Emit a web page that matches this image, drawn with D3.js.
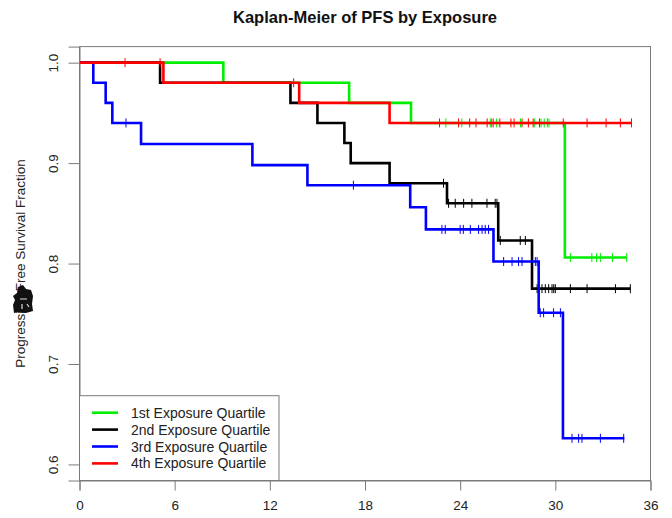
<!DOCTYPE html>
<html>
<head>
<meta charset="utf-8">
<script src="https://cdn.jsdelivr.net/npm/d3@7"></script>
<style>
  html, body { margin: 0; padding: 0; background: #fff; }
  svg { display: block; font-family: "Liberation Sans", Arial, sans-serif; }
</style>
</head>
<body>
<svg id="chart" width="672" height="518"></svg>
<script>
// Kaplan-Meier estimates of progression-free survival, by exposure quartile.
// Each stratum: event times with the survival level after each step, plus censoring times.
const groupNames = ["1st Exposure Quartile", "2nd Exposure Quartile", "3rd Exposure Quartile", "4th Exposure Quartile"];

const q1Times  = [0, 9.07, 17.0, 20.9, 30.6, 34.5];
const q1Surv   = [1.0, 0.98, 0.96, 0.94, 0.806, 0.806];
const q1Censor = [23.1, 24.1, 25.9, 26.1, 26.3, 27.8, 28.7, 29.1, 29.3, 29.5, 29.6,
                  30.95, 32.3, 32.6, 32.84, 33.6, 34.5];

const q2Times  = [0, 5.08, 13.3, 15.0, 16.7, 17.1, 19.55, 23.17, 26.4, 28.53, 34.73];
const q2Surv   = [1.0, 0.98, 0.96, 0.94, 0.92, 0.90, 0.88, 0.86, 0.823, 0.775, 0.775];
const q2Censor = [22.95, 23.27, 23.69, 24.22, 24.74, 25.69, 26.21, 26.32,
                  26.53, 27.79, 28.11,
                  28.85, 29.16, 29.37, 29.58, 29.79, 29.9, 30.0, 30.95, 32.0, 33.79, 34.73];

const q3Times  = [0, 0.87, 1.65, 2.07, 3.88, 10.9, 14.37, 20.85, 21.84, 26.1, 28.95, 30.48, 34.35];
const q3Surv   = [1.0, 0.98, 0.96, 0.94, 0.919, 0.898, 0.878, 0.856, 0.834, 0.802, 0.751, 0.626, 0.626];
const q3Censor = [2.93, 17.27,
                  22.85, 23.06, 24.0, 24.2, 24.64, 25.16, 25.38, 25.58, 25.79,
                  26.74, 27.27, 27.68, 27.9, 28.74, 28.85,
                  29.05, 29.26, 29.89, 30.32,
                  31.05, 31.47, 31.68, 32.84, 34.31];

const q4Times  = [0, 5.29, 13.85, 19.55, 34.8];
const q4Surv   = [1.0, 0.98, 0.96, 0.94, 0.94];
const q4Censor = [2.87, 5.08, 13.5,
                  22.7, 23.9, 24.6, 25.0, 25.7, 26.0, 26.5, 27.2, 27.4, 27.9, 28.3, 28.6, 29.0,
                  30.5, 32.0, 33.2, 34.1, 34.8];

const xTicks = [0, 6, 12, 18, 24, 30, 36];
const yTicks = [0.6, 0.7, 0.8, 0.9, 1.0];

const strata = [
  { name: groupNames[0], times: q1Times, surv: q1Surv, censor: q1Censor },
  { name: groupNames[1], times: q2Times, surv: q2Surv, censor: q2Censor },
  { name: groupNames[2], times: q3Times, surv: q3Surv, censor: q3Censor },
  { name: groupNames[3], times: q4Times, surv: q4Surv, censor: q4Censor }
];
const strataColors = ["#00ee00", "#000000", "#0000ff", "#ff0000"];

const svg = d3.select("#chart");
const plot = { left: 79.5, right: 650.5, top: 46.6, bottom: 480.5 };

const x = d3.scaleLinear().domain([0, 36]).range([plot.left, plot.right]);
// y range padded by 4% of the tick span, as in base R graphics
const y = d3.scaleLinear().domain([0.584, 1.016]).range([plot.bottom, plot.top]);

const axisColor = "#7a7a7a";
const textColor = "#222";

// Title
svg.append("text")
  .attr("x", (plot.left + plot.right) / 2)
  .attr("y", 23)
  .attr("text-anchor", "middle")
  .attr("font-size", 16.5)
  .attr("font-weight", "bold")
  .attr("fill", "#111")
  .text("Kaplan-Meier of PFS by Exposure");

// X axis
const gx = svg.append("g")
  .attr("transform", `translate(0,${plot.bottom})`)
  .call(d3.axisBottom(x).tickValues(xTicks).tickFormat(d3.format("d")).tickSize(10).tickPadding(10));
gx.select(".domain").attr("stroke", axisColor);
gx.selectAll(".tick line").attr("stroke", axisColor);
gx.selectAll(".tick text").attr("fill", textColor).attr("font-size", 13.5)
  .attr("font-family", "Liberation Sans, Arial, sans-serif");

// Y axis with labels rotated parallel to the axis
const gy = svg.append("g")
  .attr("transform", `translate(${plot.left},0)`)
  .call(d3.axisLeft(y).tickValues(yTicks).tickFormat(d3.format(".1f")).tickSize(11));
gy.select(".domain").attr("stroke", axisColor);
gy.selectAll(".tick line").attr("stroke", axisColor);
gy.selectAll(".tick text")
  .attr("fill", textColor).attr("font-size", 13.5)
  .attr("font-family", "Liberation Sans, Arial, sans-serif")
  .attr("transform", "rotate(-90)")
  .attr("x", 0).attr("y", -21.5).attr("dy", null)
  .attr("text-anchor", "middle");

// Y axis title
const yTitleY = (plot.top + plot.bottom) / 2;
svg.append("text")
  .attr("transform", `translate(25,${yTitleY}) rotate(-90)`)
  .attr("text-anchor", "middle")
  .attr("font-size", 13.5)
  .attr("fill", textColor)
  .text("Progression-Free Survival Fraction");

// Ink smudge over the axis title
svg.append("path")
  .attr("d", "M18,287 L23,285 L26,289 L31,290 L33,296 L32,304 L33,311 L26,313 L19,312 L14,313 L13,305 L15,300 L13,296 L17,293 Z")
  .attr("fill", "#111");
svg.append("path")
  .attr("d", "M20,299 L27,299 M22,304 L22,309 M27,304 L29,307")
  .attr("stroke", "#ddd").attr("stroke-width", 1.2).attr("fill", "none");

// Survival step curves
const stepLine = d3.line()
  .x(d => x(d[0]))
  .y(d => y(d[1]))
  .curve(d3.curveStepAfter);

const survAt = (s, t) => s.surv[Math.max(0, d3.bisectRight(s.times, t) - 1)];

strata.forEach((s, i) => {
  const g = svg.append("g");
  g.append("path")
    .datum(s.times.map((t, k) => [t, s.surv[k]]))
    .attr("d", stepLine)
    .attr("fill", "none")
    .attr("stroke", strataColors[i])
    .attr("stroke-width", 2.6)
    .attr("stroke-linejoin", "miter");
  // censoring marks
  g.selectAll("line.cens")
    .data(s.censor)
    .join("line")
    .attr("class", "cens")
    .attr("x1", t => x(t)).attr("x2", t => x(t))
    .attr("y1", t => y(survAt(s, t)) - 4.5)
    .attr("y2", t => y(survAt(s, t)) + 4.5)
    .attr("stroke", strataColors[i])
    .attr("stroke-width", 1);
});

// Legend (bottom-left, flush with the plot frame)
const legend = svg.append("g");
const legTop = 395.7, legRight = 279;
legend.append("rect")
  .attr("x", plot.left).attr("y", legTop)
  .attr("width", legRight - plot.left).attr("height", plot.bottom - legTop)
  .attr("fill", "#fff").attr("stroke", axisColor).attr("stroke-width", 1);
strata.forEach((s, i) => {
  const cy = 412.7 + i * 16.9;
  legend.append("line")
    .attr("x1", 92).attr("x2", 118).attr("y1", cy).attr("y2", cy)
    .attr("stroke", strataColors[i]).attr("stroke-width", 2.6);
  legend.append("text")
    .attr("x", 131).attr("y", cy + 5)
    .attr("font-size", 14).attr("fill", textColor)
    .text(s.name);
});

// Plot frame
svg.append("rect")
  .attr("x", plot.left).attr("y", plot.top)
  .attr("width", plot.right - plot.left).attr("height", plot.bottom - plot.top)
  .attr("fill", "none").attr("stroke", axisColor).attr("stroke-width", 1);
</script>
</body>
</html>
